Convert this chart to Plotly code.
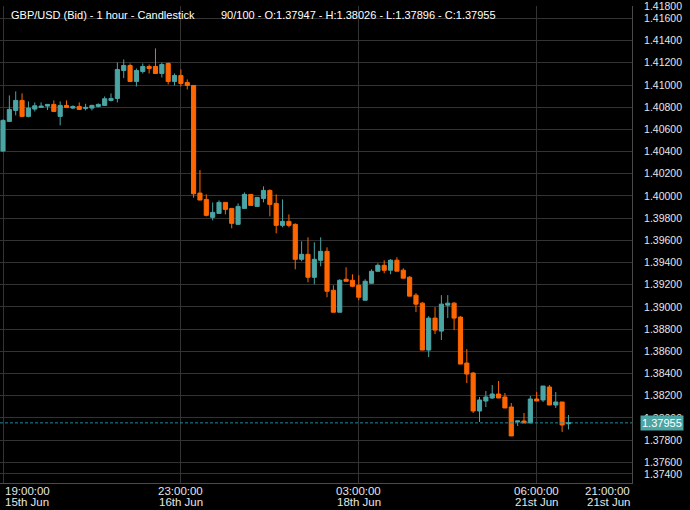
import plotly.graph_objects as go

TITLE = "GBP/USD (Bid) - 1 hour - Candlestick"
INFO = "90/100 - O:1.37947 - H:1.38026 - L:1.37896 - C:1.37955"

candle_index = list(range(90))

open_ = [1.40405, 1.40672, 1.40771, 1.40861, 1.40717, 1.40783, 1.40798, 1.40810, 1.40825, 1.40717,
         1.40816, 1.40792, 1.40807, 1.40789, 1.40792, 1.40807, 1.40816, 1.40861, 1.40879, 1.41131,
         1.41176, 1.41032, 1.41122, 1.41167, 1.41167, 1.41104, 1.41194, 1.41032, 1.41086, 1.41023,
         1.40996, 1.40026, 1.39969, 1.39807, 1.39843, 1.39942, 1.39888, 1.39744, 1.39888, 1.40014,
         1.39906, 1.39978, 1.40050, 1.39933, 1.39735, 1.39771, 1.39744, 1.39429, 1.39474, 1.39267,
         1.39420, 1.39501, 1.39150, 1.38952, 1.39249, 1.39240, 1.39195, 1.39060, 1.39213, 1.39321,
         1.39375, 1.39331, 1.39421, 1.39331, 1.39268, 1.39106, 1.39034, 1.38611, 1.38899, 1.38782,
         1.39016, 1.39034, 1.38908, 1.38494, 1.38404, 1.38062, 1.38152, 1.38179, 1.38215, 1.38188,
         1.38098, 1.37963, 1.37972, 1.37954, 1.38170, 1.38161, 1.38278, 1.38116, 1.38143, 1.37947]

high = [1.40690, 1.40906, 1.40942, 1.40924, 1.40852, 1.40843, 1.40843, 1.40825, 1.40861, 1.40852,
        1.40861, 1.40816, 1.40843, 1.40831, 1.40822, 1.40834, 1.40897, 1.40924, 1.41203, 1.41230,
        1.41194, 1.41149, 1.41194, 1.41185, 1.41330, 1.41203, 1.41203, 1.41104, 1.41140, 1.41050,
        1.40996, 1.40233, 1.40014, 1.39942, 1.39960, 1.39942, 1.39888, 1.39933, 1.40032, 1.40014,
        1.39990, 1.40086, 1.40059, 1.40014, 1.39969, 1.39834, 1.39753, 1.39591, 1.39627, 1.39582,
        1.39627, 1.39537, 1.39195, 1.39249, 1.39357, 1.39294, 1.39285, 1.39249, 1.39339, 1.39393,
        1.39420, 1.39430, 1.39448, 1.39349, 1.39277, 1.39124, 1.39043, 1.38917, 1.38998, 1.39106,
        1.39106, 1.39043, 1.38917, 1.38620, 1.38413, 1.38188, 1.38242, 1.38296, 1.38332, 1.38224,
        1.38134, 1.37972, 1.38044, 1.38197, 1.38233, 1.38287, 1.38296, 1.38233, 1.38143, 1.38026]

low = [1.40400, 1.40666, 1.40726, 1.40717, 1.40708, 1.40762, 1.40798, 1.40774, 1.40762, 1.40636,
       1.40792, 1.40783, 1.40780, 1.40771, 1.40771, 1.40798, 1.40816, 1.40852, 1.40843, 1.41062,
       1.41032, 1.40987, 1.41104, 1.41104, 1.41104, 1.41068, 1.41005, 1.40996, 1.40987, 1.40960,
       1.39984, 1.39963, 1.39816, 1.39780, 1.39843, 1.39834, 1.39708, 1.39744, 1.39888, 1.39915,
       1.39906, 1.39942, 1.39816, 1.39663, 1.39717, 1.39717, 1.39339, 1.39411, 1.39222, 1.39204,
       1.39366, 1.39087, 1.38952, 1.38952, 1.39231, 1.39177, 1.39060, 1.39060, 1.39213, 1.39321,
       1.39303, 1.39295, 1.39322, 1.39259, 1.39097, 1.38953, 1.38611, 1.38548, 1.38755, 1.38701,
       1.38899, 1.38791, 1.38485, 1.38314, 1.38044, 1.37963, 1.38098, 1.38170, 1.38179, 1.38089,
       1.37837, 1.37927, 1.37954, 1.37954, 1.38152, 1.38143, 1.38116, 1.38089, 1.37873, 1.37896]

close = [1.40681, 1.40780, 1.40861, 1.40717, 1.40792, 1.40813, 1.40810, 1.40825, 1.40762, 1.40816,
         1.40798, 1.40807, 1.40780, 1.40798, 1.40816, 1.40825, 1.40876, 1.40879, 1.41140, 1.41176,
         1.41032, 1.41131, 1.41167, 1.41149, 1.41104, 1.41185, 1.41032, 1.41086, 1.41014, 1.40996,
         1.40020, 1.39963, 1.39825, 1.39852, 1.39942, 1.39879, 1.39753, 1.39906, 1.40014, 1.39915,
         1.39987, 1.40050, 1.39924, 1.39735, 1.39771, 1.39735, 1.39429, 1.39474, 1.39267, 1.39429,
         1.39501, 1.39141, 1.38952, 1.39240, 1.39231, 1.39186, 1.39087, 1.39231, 1.39321, 1.39375,
         1.39330, 1.39421, 1.39322, 1.39259, 1.39097, 1.39025, 1.38611, 1.38899, 1.38791, 1.39025,
         1.39034, 1.38899, 1.38485, 1.38395, 1.38062, 1.38161, 1.38188, 1.38215, 1.38179, 1.38089,
         1.37837, 1.37972, 1.37954, 1.38170, 1.38152, 1.38287, 1.38116, 1.38143, 1.37936, 1.37955]

x_tick_index = [0, 28, 56, 84, 99]
x_tick_time = ["19:00:00", "23:00:00", "03:00:00", "06:00:00", "21:00:00"]
x_tick_date = ["15th Jun", "16th Jun", "18th Jun", "21st Jun", "21st Jun"]

y_tick_vals = [1.37495, 1.376, 1.378, 1.380, 1.382, 1.384, 1.386, 1.388, 1.390, 1.392, 1.394,
               1.396, 1.398, 1.400, 1.402, 1.404, 1.406, 1.408, 1.410, 1.412, 1.414, 1.416, 1.41711]
y_tick_text = ["1.37400", "1.37600", "1.37800", "1.38000", "1.38200", "1.38400", "1.38600",
               "1.38800", "1.39000", "1.39200", "1.39400", "1.39600", "1.39800", "1.40000",
               "1.40200", "1.40400", "1.40600", "1.40800", "1.41000", "1.41200", "1.41400",
               "1.41600", "1.41800"]
y_range = [1.37413, 1.41712]
x_range = [-0.472, 99]

last_price = close[-1]
last_label = "%.5f" % last_price

TEAL = "#4ba5a5"
ORANGE = "#ff6600"
GRID = "#333333"
AXIS = "#4a4a4a"
TEXT = "#e6e6e6"
FONT = "Liberation Sans, Arial, sans-serif"

fig = go.Figure(go.Candlestick(
    x=candle_index, open=open_, high=high, low=low, close=close,
    increasing=dict(line=dict(color=TEAL, width=1), fillcolor=TEAL),
    decreasing=dict(line=dict(color=ORANGE, width=1), fillcolor=ORANGE),
    whiskerwidth=0, showlegend=False, hoverinfo="skip",
))

fig.update_layout(
    width=690, height=510,
    margin=dict(l=0, r=58, t=6, b=27, autoexpand=False),
    paper_bgcolor="#000000", plot_bgcolor="#000000",
    boxgap=0.07, showlegend=False,
    font=dict(family=FONT, color=TEXT, size=11),
)

fig.update_xaxes(
    range=x_range, tickvals=x_tick_index[:4], showticklabels=False,
    showgrid=True, gridcolor=GRID, gridwidth=1, zeroline=False,
    showline=True, linecolor=AXIS, linewidth=1, ticks="", automargin=False,
    rangeslider=dict(visible=False), fixedrange=True,
)

fig.update_yaxes(
    side="right", range=y_range, tickvals=y_tick_vals, ticktext=y_tick_text,
    showgrid=True, gridcolor=GRID, gridwidth=1, zeroline=False,
    showline=True, linecolor=AXIS, linewidth=1, ticks="", automargin=False,
    ticklabelstandoff=9, ticklabeloverflow="allow",
    tickfont=dict(size=10.5, color=TEXT), fixedrange=True,
)

# last price dashed line
fig.add_shape(type="line", xref="paper", x0=0, x1=1, yref="y", y0=last_price, y1=last_price,
              line=dict(color="#1d8ca0", width=1, dash="3px,2px"))

annotations = []
for k, (xi, t, d) in enumerate(zip(x_tick_index, x_tick_time, x_tick_date)):
    anchor = "left" if k == 0 else ("right" if k == len(x_tick_index) - 1 else "center")
    for txt, ys in ((t, -8), (d, -19)):
        annotations.append(dict(x=xi, xref="x", y=0, yref="paper", yshift=ys,
                                text=txt, showarrow=False, xanchor=anchor, yanchor="middle",
                                font=dict(size=11.5, color=TEXT, family=FONT)))

annotations.append(dict(x=9 / 632, xref="paper", y=1, yref="paper", yshift=-8.5,
                        text=TITLE, showarrow=False, xanchor="left", yanchor="middle",
                        font=dict(size=11, color="#ffffff", family=FONT)))
annotations.append(dict(x=219 / 632, xref="paper", y=1, yref="paper", yshift=-8.5,
                        text=INFO, showarrow=False, xanchor="left", yanchor="middle",
                        font=dict(size=11, color="#ffffff", family=FONT)))
annotations.append(dict(x=1, xref="paper", xshift=8, y=last_price, yref="y",
                        text=last_label, showarrow=False, xanchor="left", yanchor="middle",
                        bgcolor=TEAL, borderpad=1,
                        font=dict(size=11, color="#ffffff", family=FONT)))
fig.update_layout(annotations=annotations)

fig.write_html("out.html", config={"displayModeBar": False},
               post_script="document.body.style.margin='0';document.body.style.overflow='hidden';")
